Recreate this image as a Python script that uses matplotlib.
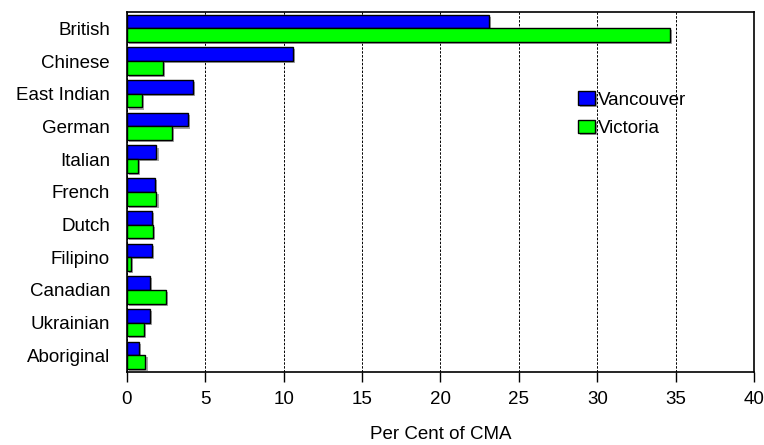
import matplotlib
matplotlib.use("Agg")
import matplotlib.pyplot as plt
import matplotlib.patheffects as pe
import numpy as np

categories = ["British", "Chinese", "East Indian", "German", "Italian", "French",
              "Dutch", "Filipino", "Canadian", "Ukrainian", "Aboriginal"]
vancouver = [23.1, 10.6, 4.2, 3.9, 1.9, 1.8, 1.6, 1.6, 1.5, 1.5, 0.8]
victoria = [34.6, 2.3, 1.0, 2.9, 0.7, 1.9, 1.7, 0.3, 2.5, 1.1, 1.2]
xticks = [0, 5, 10, 15, 20, 25, 30, 35, 40]

plt.rcParams['font.family'] = ['Liberation Sans', 'DejaVu Sans']

fig = plt.figure(figsize=(7.64, 4.45), dpi=100)
ax = fig.add_axes([0.1658, 0.1647, 0.9873 - 0.1658, 0.973 - 0.1647])

y = np.arange(len(categories))
h = 0.42
shadow = [pe.SimplePatchShadow(offset=(1.5, -1.5), shadow_rgbFace='#808080', alpha=0.7), pe.Normal()]
b1 = ax.barh(y - h / 2, vancouver, height=h, color='#0000FF', edgecolor='black', linewidth=1.0,
             label='Vancouver', zorder=3)
b2 = ax.barh(y + h / 2, victoria, height=h, color='#00FF00', edgecolor='black', linewidth=1.0,
             label='Victoria', zorder=3)
for b in list(b1) + list(b2):
    b.set_path_effects(shadow)

ax.set_ylim(len(categories) - 0.5, -0.5)
ax.set_xlim(0, 40)
ax.set_xticks(xticks)
ax.set_xticklabels([str(t) for t in xticks], fontsize=13.5)
ax.set_yticks(y)
ax.set_yticklabels(categories, fontsize=13.5)
ax.tick_params(axis='y', length=0, pad=12)
ax.tick_params(axis='x', length=7, width=1, direction='out', pad=7)
ax.grid(axis='x', color='black', linestyle=(0, (2.5, 1.5)), linewidth=0.7, zorder=1)
for s in ax.spines.values():
    s.set_linewidth(1.2)
    s.set_color('black')

ax.set_xlabel('Per Cent of CMA', fontsize=13.5, labelpad=13)

leg = ax.legend(loc='upper left', bbox_to_anchor=(0.7075, 0.80), frameon=False, fontsize=13.5,
                handlelength=0.9, handleheight=0.7, handletextpad=0.15, labelspacing=0.6,
                borderaxespad=0)

fig.savefig('out.png', dpi=100)
